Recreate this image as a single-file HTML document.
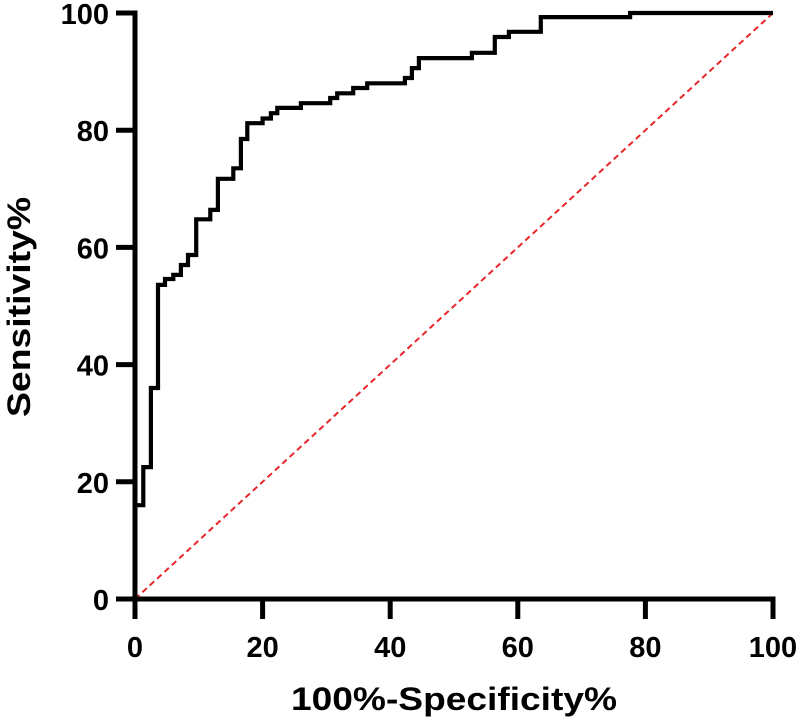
<!DOCTYPE html>
<html><head><meta charset="utf-8"><style>
html,body{margin:0;padding:0;background:#fff;}
svg{display:block;font-family:"Liberation Sans",Arial,sans-serif;font-weight:bold;}
</style></head><body>
<svg id="chart" width="800" height="727"></svg>
<script>
const fprValues=[0,0,1.3,1.3,2.5,2.5,3.6,3.6,4.7,4.7,6,6,7.2,7.2,8.3,8.3,9.6,9.6,11.8,11.8,13,13,15.4,15.4,16.6,16.6,17.6,17.6,20,20,21.3,21.3,22.3,22.3,26,26,30.6,30.6,31.7,31.7,34.2,34.2,36.4,36.4,42.3,42.3,43.4,43.4,44.5,44.5,52.8,52.8,56.4,56.4,58.6,58.6,63.6,63.6,77.6,77.6,100];
const tprValues=[0,16,16,22.5,22.5,36,36,53.6,53.6,54.6,54.6,55.3,55.3,57,57,58.7,58.7,64.8,64.8,66.4,66.4,71.7,71.7,73.5,73.5,78.5,78.5,81.2,81.2,82,82,82.9,82.9,83.8,83.8,84.6,84.6,85.5,85.5,86.3,86.3,87.2,87.2,88,88,88.9,88.9,90.6,90.6,92.3,92.3,93.2,93.2,95.9,95.9,96.8,96.8,99.3,99.3,100,100];
const xTicks=[0,20,40,60,80,100];
const yTicks=[0,20,40,60,80,100];
const NS="http://www.w3.org/2000/svg";
const svg=document.getElementById('chart');
const X0=135,X1=773,Y0=599,Y1=13;
const xs=v=>X0+(X1-X0)*v/100;
const ys=v=>Y0-(Y0-Y1)*v/100;
function mk(tag,attrs){const e=document.createElementNS(NS,tag);for(const k in attrs)e.setAttribute(k,attrs[k]);svg.appendChild(e);return e;}
let diag=mk('line',{x1:xs(0),y1:ys(0),x2:xs(100),y2:ys(100),stroke:'#e8262b','stroke-width':2,'stroke-dasharray':'6,4'});


let d=fprValues.map((v,i)=>(i?'L':'M')+xs(v).toFixed(1)+','+ys(tprValues[i]).toFixed(1)).join('');
let curve=mk('path',{d:d,fill:'none',stroke:'#000','stroke-width':4.2,'stroke-linejoin':'miter'});


let xa=mk('line',{x1:X0-19,y1:Y0,x2:X1+2.5,y2:Y0,stroke:'#000','stroke-width':5});


let ya=mk('line',{x1:X0,y1:Y0+2.5,x2:X0,y2:Y1-2.5,stroke:'#000','stroke-width':5});


xTicks.forEach(t=>{
  let l=mk('line',{x1:xs(t),y1:Y0,x2:xs(t),y2:Y0+20,stroke:'#000','stroke-width':5});
  
  
  let tx=mk('text',{x:xs(t),y:Y0+58,'text-anchor':'middle','font-size':29});
  tx.textContent=t;
  
  
});
yTicks.forEach(t=>{
  let l=mk('line',{x1:X0-19,y1:ys(t),x2:X0,y2:ys(t),stroke:'#000','stroke-width':5});
  
  
  let tx=mk('text',{x:X0-26,y:ys(t)+11,'text-anchor':'end','font-size':29});
  tx.textContent=t;
  
  
});
let xt=mk('text',{x:454,y:710,'text-anchor':'middle','font-size':32,textLength:326,lengthAdjust:'spacingAndGlyphs'});
xt.textContent='100%-Specificity%';


let yt=mk('text',{x:0,y:0,'text-anchor':'middle','font-size':32,textLength:220,lengthAdjust:'spacingAndGlyphs',transform:'translate(30,307) rotate(-90)'});
yt.textContent='Sensitivity%';


</script>
</body></html>
